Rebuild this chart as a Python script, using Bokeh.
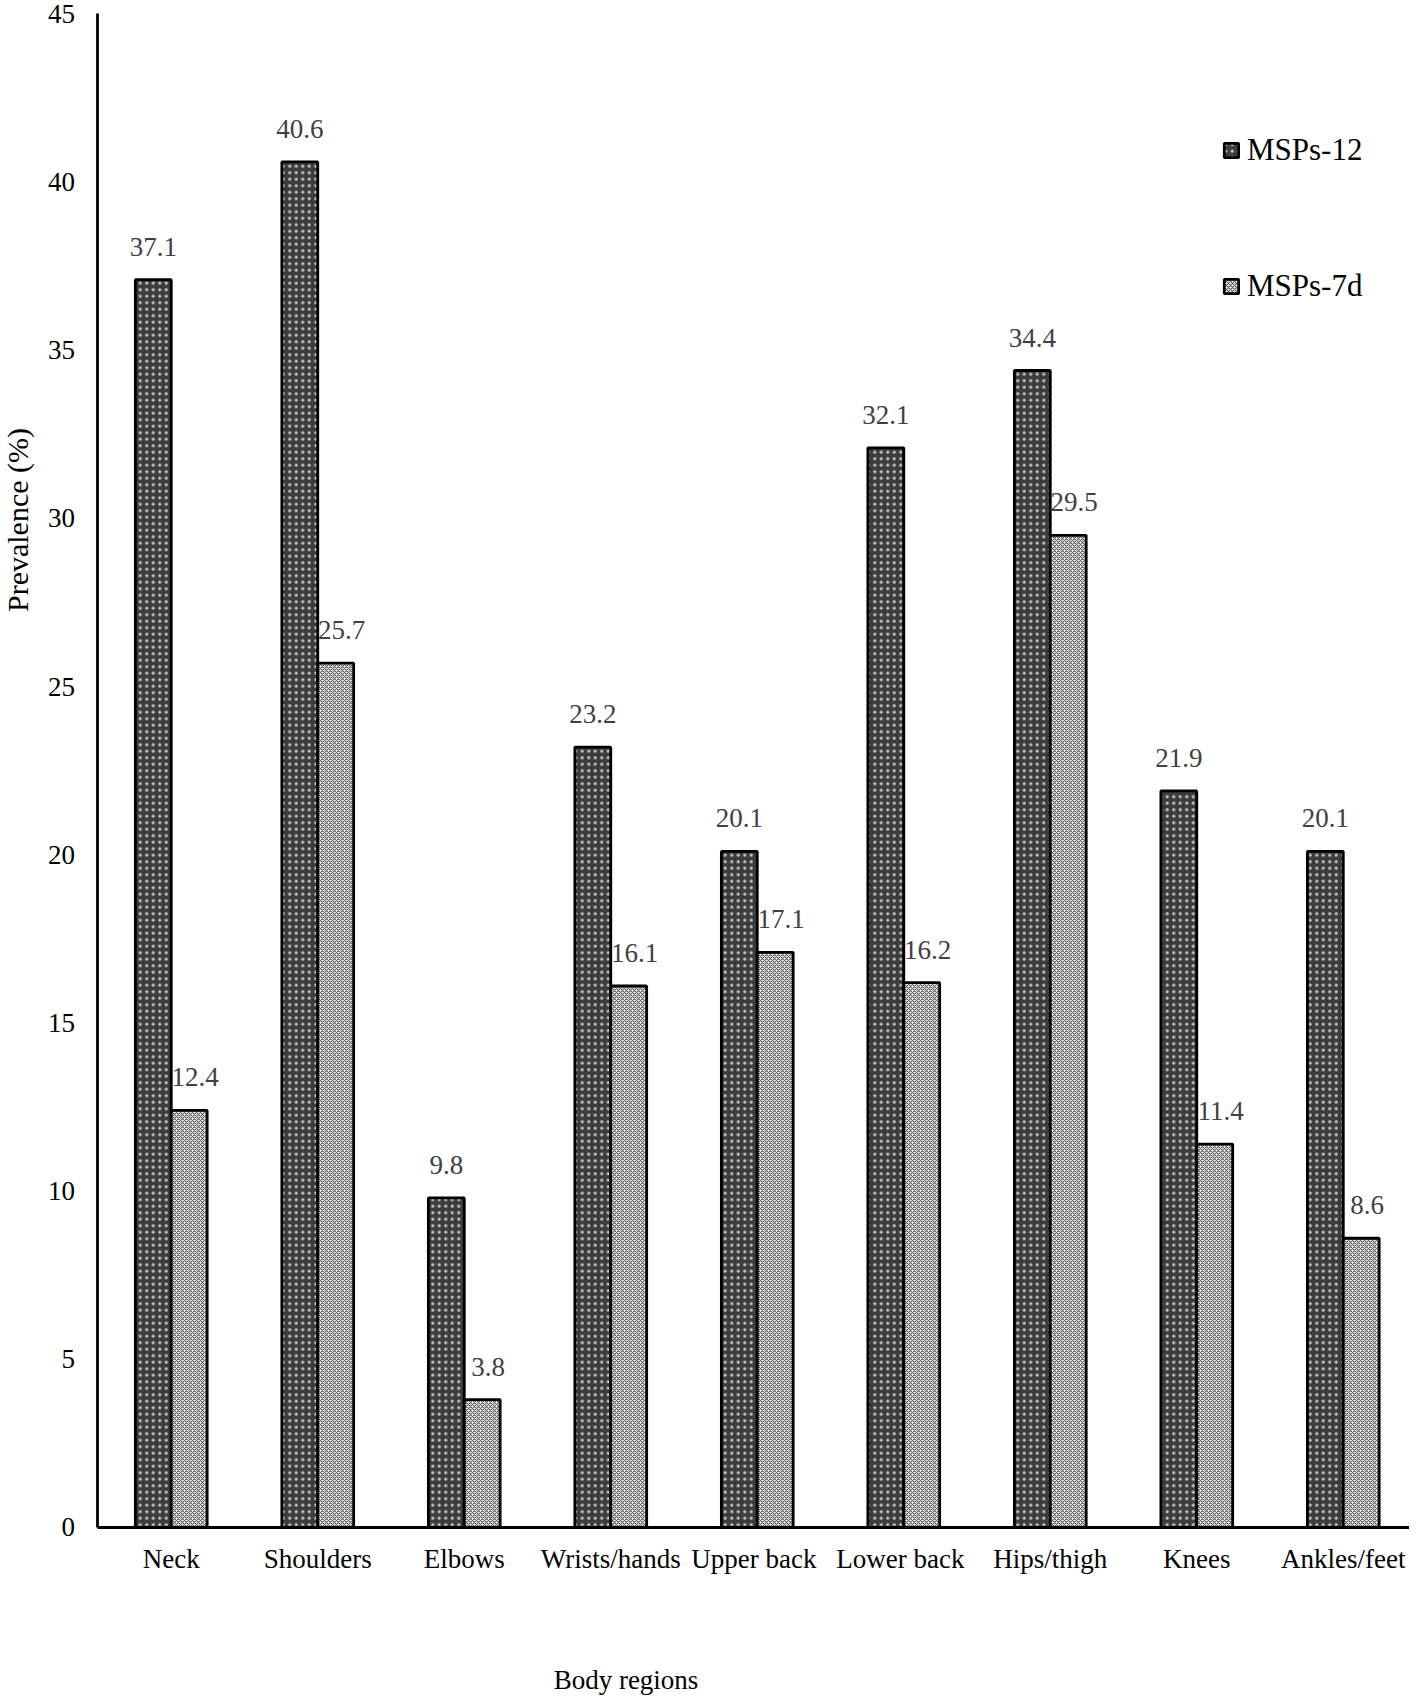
import math
import numpy as np
from bokeh.plotting import figure
from bokeh.models import (ColumnDataSource, Legend, LegendItem, Label, Range1d,
                          FixedTicker, LinearAxis)
from bokeh.core.properties import value
from bokeh.embed import file_html
from bokeh.resources import INLINE

regions = ["Neck", "Shoulders", "Elbows", "Wrists/hands", "Upper  back",
           "Lower  back", "Hips/thigh", "Knees", "Ankles/feet"]
msps_12 = [37.1, 40.6, 9.8, 23.2, 20.1, 32.1, 34.4, 21.9, 20.1]
msps_7d = [12.4, 25.7, 3.8, 16.1, 17.1, 16.2, 29.5, 11.4, 8.6]
y_ticks = [0, 5, 10, 15, 20, 25, 30, 35, 40, 45]
series_names = ["MSPs-12", "MSPs-7d"]

FONT = "Liberation Serif"

bw = 0.245
off = bw / 2
centers = np.arange(len(regions)) + 0.5

src = ColumnDataSource(dict(
    xc=centers,
    x12=centers - off,
    x7=centers + off,
    m12=msps_12,
    m7=msps_7d,
    l12=[f"{v:.1f}" for v in msps_12],
    l7=[f"{v:.1f}" for v in msps_7d],
))

p = figure(width=1409, height=1696,
           x_range=Range1d(-0.6655, 8.952),
           y_range=Range1d(-5.025, 45.401),
           x_axis_location=None, y_axis_location=None,
           output_backend="svg", toolbar_location=None, title=None,
           min_border=0)

p.outline_line_color = None
p.xgrid.grid_line_color = None
p.ygrid.grid_line_color = None
p.background_fill_color = "white"
p.border_fill_color = "white"

r1 = p.vbar(x="x12", top="m12", width=bw, source=src,
            fill_color="#3c3c3c", line_color="black", line_width=2.8,
            hatch_pattern="dot", hatch_color="white", hatch_alpha=0.7,
            hatch_scale=6.5, hatch_weight=1)
r2 = p.vbar(x="x7", top="m7", width=bw, source=src,
            fill_color="white", line_color="black", line_width=2.8,
            hatch_pattern="diagonal_cross", hatch_color="#5a5a5a", hatch_scale=4, hatch_weight=1.1)

p.text(x="x12", y="m12", text="l12", source=src,
       text_font=value(FONT), text_font_size="27px", text_color="#404040",
       text_align="center", text_baseline="alphabetic", y_offset=-33)
p.text(x="x7", y="m7", text="l7", source=src,
       text_font=value(FONT), text_font_size="27px", text_color="#404040",
       text_align="center", text_baseline="alphabetic", y_offset=-33, x_offset=6)

# axes drawn at fixed data locations inside the frame
xax = LinearAxis(fixed_location=0, bounds=(0, 9),
                 ticker=FixedTicker(ticks=[float(c) for c in centers]),
                 major_label_overrides={float(c): r for c, r in zip(centers, regions)})
xax.major_tick_line_color = None
xax.minor_tick_line_color = None
xax.axis_line_color = "black"
xax.axis_line_width = 2.8
xax.major_label_text_font = FONT
xax.major_label_text_font_size = "27px"
xax.major_label_text_color = "black"
xax.major_label_standoff = 11
p.add_layout(xax, "below")

yax = LinearAxis(fixed_location=0, bounds=(0, 45), ticker=FixedTicker(ticks=y_ticks))
yax.major_tick_line_color = None
yax.minor_tick_line_color = None
yax.axis_line_color = "black"
yax.axis_line_width = 2.8
yax.major_label_text_font = FONT
yax.major_label_text_font_size = "27px"
yax.major_label_text_color = "black"
yax.major_label_standoff = 17
p.add_layout(yax, "left")

# axis titles
p.add_layout(Label(x=-0.551, y=29.955, text="Prevalence (%)", angle=math.pi / 2,
                   text_font=FONT, text_font_size="30px", text_color="black",
                   text_align="center", text_baseline="middle"))
p.add_layout(Label(x=3.604, y=-4.54, text="Body regions",
                   text_font=FONT, text_font_size="27px", text_color="black",
                   text_align="center", text_baseline="middle"))

# legends
for rend, name, loc in ((r1, series_names[0], (1222, 1528)), (r2, series_names[1], (1222, 1392))):
    leg = Legend(items=[LegendItem(label=name, renderers=[rend])], location=loc,
                 label_text_font=FONT, label_text_font_size="31px", label_text_color="black",
                 glyph_width=18, glyph_height=18, label_standoff=7,
                 padding=0, margin=0, spacing=0,
                 border_line_alpha=0, background_fill_alpha=0)
    p.add_layout(leg)

open("out.html", "w").write(file_html(p, INLINE))
